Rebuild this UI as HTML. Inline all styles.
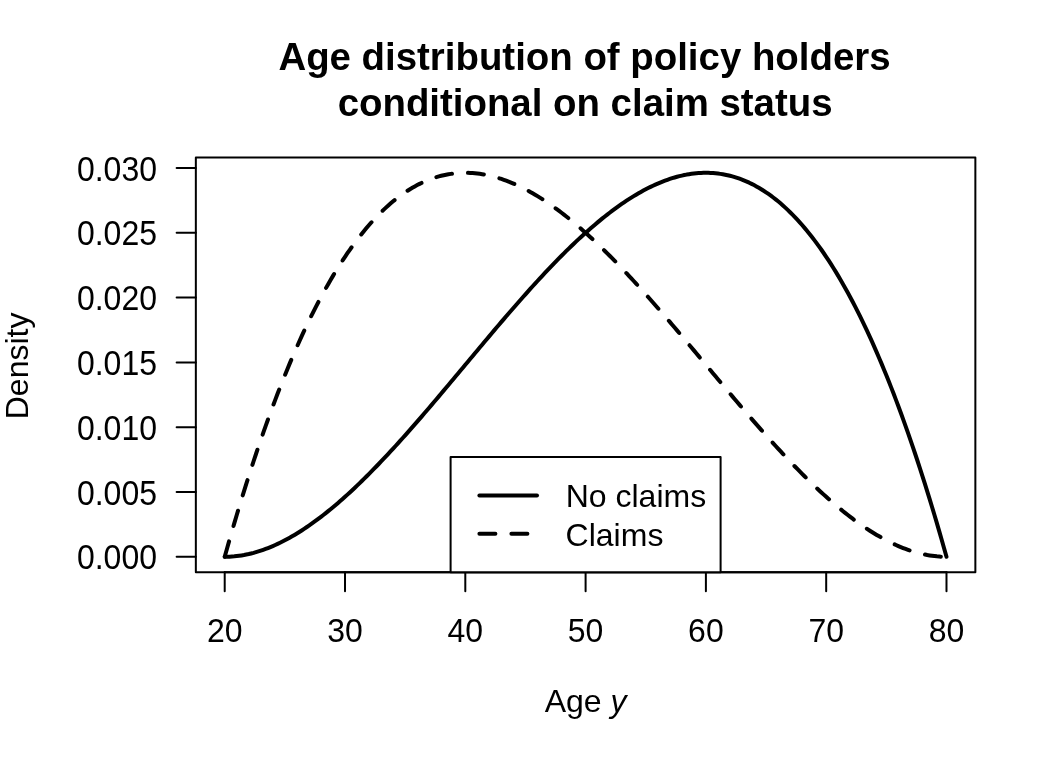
<!DOCTYPE html>
<html><head><meta charset="utf-8"><title>Age distribution of policy holders</title>
<style>
html,body{margin:0;padding:0;background:#fff;}
svg{display:block}
.t{font-family:"Liberation Sans",sans-serif;font-size:32px;fill:#000}
.m{font-family:"Liberation Sans",sans-serif;font-size:38.4px;font-weight:bold;fill:#000}
.ax{stroke:#000;stroke-width:2;stroke-linecap:round;fill:none}
.cv{stroke:#000;stroke-width:4;stroke-linecap:round;stroke-linejoin:round;fill:none}
</style></head><body>
<svg width="1056" height="768" viewBox="0 0 1056 768">
<rect width="1056" height="768" fill="#fff"/>
<rect x="195.84" y="157.44" width="779.52" height="414.71999999999997" fill="none" stroke="#000" stroke-width="2" stroke-linejoin="round"/>
<line x1="224.71" y1="572.16" x2="224.71" y2="591.36" class="ax"/>
<text transform="translate(224.71,642.1) scale(1,1.05)" text-anchor="middle" class="t">20</text>
<line x1="345.01" y1="572.16" x2="345.01" y2="591.36" class="ax"/>
<text transform="translate(345.01,642.1) scale(1,1.05)" text-anchor="middle" class="t">30</text>
<line x1="465.30" y1="572.16" x2="465.30" y2="591.36" class="ax"/>
<text transform="translate(465.30,642.1) scale(1,1.05)" text-anchor="middle" class="t">40</text>
<line x1="585.60" y1="572.16" x2="585.60" y2="591.36" class="ax"/>
<text transform="translate(585.60,642.1) scale(1,1.05)" text-anchor="middle" class="t">50</text>
<line x1="705.90" y1="572.16" x2="705.90" y2="591.36" class="ax"/>
<text transform="translate(705.90,642.1) scale(1,1.05)" text-anchor="middle" class="t">60</text>
<line x1="826.19" y1="572.16" x2="826.19" y2="591.36" class="ax"/>
<text transform="translate(826.19,642.1) scale(1,1.05)" text-anchor="middle" class="t">70</text>
<line x1="946.49" y1="572.16" x2="946.49" y2="591.36" class="ax"/>
<text transform="translate(946.49,642.1) scale(1,1.05)" text-anchor="middle" class="t">80</text>
<line x1="224.71" y1="572.16" x2="946.49" y2="572.16" class="ax"/>
<line x1="195.84" y1="556.80" x2="176.64000000000001" y2="556.80" class="ax"/>
<text transform="translate(157,569.35) scale(1,1.08)" text-anchor="end" class="t">0.000</text>
<line x1="195.84" y1="492.00" x2="176.64000000000001" y2="492.00" class="ax"/>
<text transform="translate(157,504.55) scale(1,1.08)" text-anchor="end" class="t">0.005</text>
<line x1="195.84" y1="427.20" x2="176.64000000000001" y2="427.20" class="ax"/>
<text transform="translate(157,439.75) scale(1,1.08)" text-anchor="end" class="t">0.010</text>
<line x1="195.84" y1="362.40" x2="176.64000000000001" y2="362.40" class="ax"/>
<text transform="translate(157,374.95) scale(1,1.08)" text-anchor="end" class="t">0.015</text>
<line x1="195.84" y1="297.60" x2="176.64000000000001" y2="297.60" class="ax"/>
<text transform="translate(157,310.15) scale(1,1.08)" text-anchor="end" class="t">0.020</text>
<line x1="195.84" y1="232.80" x2="176.64000000000001" y2="232.80" class="ax"/>
<text transform="translate(157,245.35) scale(1,1.08)" text-anchor="end" class="t">0.025</text>
<line x1="195.84" y1="168.00" x2="176.64000000000001" y2="168.00" class="ax"/>
<text transform="translate(157,180.55) scale(1,1.08)" text-anchor="end" class="t">0.030</text>
<path d="M224.71,556.80 L227.12,556.77 L229.52,556.69 L231.93,556.54 L234.33,556.35 L236.74,556.09 L239.15,555.78 L241.55,555.42 L243.96,555.01 L246.36,554.54 L248.77,554.02 L251.18,553.44 L253.58,552.82 L255.99,552.14 L258.39,551.42 L260.80,550.64 L263.21,549.82 L265.61,548.95 L268.02,548.03 L270.42,547.06 L272.83,546.05 L275.24,544.99 L277.64,543.88 L280.05,542.73 L282.45,541.54 L284.86,540.30 L287.27,539.02 L289.67,537.69 L292.08,536.33 L294.48,534.92 L296.89,533.47 L299.29,531.98 L301.70,530.45 L304.11,528.89 L306.51,527.28 L308.92,525.64 L311.32,523.95 L313.73,522.24 L316.14,520.48 L318.54,518.69 L320.95,516.86 L323.35,515.00 L325.76,513.11 L328.17,511.18 L330.57,509.22 L332.98,507.23 L335.38,505.20 L337.79,503.15 L340.20,501.06 L342.60,498.95 L345.01,496.80 L347.41,494.63 L349.82,492.42 L352.23,490.19 L354.63,487.94 L357.04,485.65 L359.44,483.34 L361.85,481.01 L364.25,478.65 L366.66,476.26 L369.07,473.86 L371.47,471.43 L373.88,468.97 L376.28,466.50 L378.69,464.00 L381.10,461.48 L383.50,458.95 L385.91,456.39 L388.31,453.81 L390.72,451.22 L393.13,448.61 L395.53,445.98 L397.94,443.33 L400.34,440.67 L402.75,437.99 L405.16,435.30 L407.56,432.59 L409.97,429.87 L412.37,427.14 L414.78,424.39 L417.19,421.63 L419.59,418.86 L422.00,416.08 L424.40,413.29 L426.81,410.49 L429.21,407.68 L431.62,404.86 L434.03,402.03 L436.43,399.19 L438.84,396.35 L441.24,393.50 L443.65,390.65 L446.06,387.79 L448.46,384.93 L450.87,382.06 L453.27,379.19 L455.68,376.31 L458.09,373.44 L460.49,370.56 L462.90,367.68 L465.30,364.80 L467.71,361.92 L470.12,359.04 L472.52,356.16 L474.93,353.29 L477.33,350.41 L479.74,347.54 L482.15,344.67 L484.55,341.81 L486.96,338.95 L489.36,336.10 L491.77,333.25 L494.17,330.41 L496.58,327.57 L498.99,324.74 L501.39,321.92 L503.80,319.11 L506.20,316.31 L508.61,313.52 L511.02,310.74 L513.42,307.97 L515.83,305.21 L518.23,302.46 L520.64,299.73 L523.05,297.01 L525.45,294.30 L527.86,291.61 L530.26,288.93 L532.67,286.27 L535.08,283.62 L537.48,280.99 L539.89,278.38 L542.29,275.79 L544.70,273.21 L547.11,270.65 L549.51,268.12 L551.92,265.60 L554.32,263.10 L556.73,260.63 L559.13,258.17 L561.54,255.74 L563.95,253.34 L566.35,250.95 L568.76,248.59 L571.16,246.26 L573.57,243.95 L575.98,241.66 L578.38,239.41 L580.79,237.18 L583.19,234.97 L585.60,232.80 L588.01,230.65 L590.41,228.54 L592.82,226.45 L595.22,224.40 L597.63,222.37 L600.04,220.38 L602.44,218.42 L604.85,216.49 L607.25,214.60 L609.66,212.74 L612.07,210.91 L614.47,209.12 L616.88,207.36 L619.28,205.65 L621.69,203.96 L624.09,202.32 L626.50,200.71 L628.91,199.15 L631.31,197.62 L633.72,196.13 L636.12,194.68 L638.53,193.27 L640.94,191.91 L643.34,190.58 L645.75,189.30 L648.15,188.06 L650.56,186.87 L652.97,185.72 L655.37,184.61 L657.78,183.55 L660.18,182.54 L662.59,181.57 L665.00,180.65 L667.40,179.78 L669.81,178.96 L672.21,178.18 L674.62,177.46 L677.03,176.78 L679.43,176.16 L681.84,175.58 L684.24,175.06 L686.65,174.59 L689.05,174.18 L691.46,173.82 L693.87,173.51 L696.27,173.25 L698.68,173.06 L701.08,172.91 L703.49,172.83 L705.90,172.80 L708.30,172.83 L710.71,172.92 L713.11,173.06 L715.52,173.27 L717.93,173.53 L720.33,173.86 L722.74,174.24 L725.14,174.69 L727.55,175.20 L729.96,175.78 L732.36,176.41 L734.77,177.11 L737.17,177.88 L739.58,178.71 L741.99,179.60 L744.39,180.57 L746.80,181.59 L749.20,182.69 L751.61,183.86 L754.01,185.09 L756.42,186.39 L758.83,187.76 L761.23,189.20 L763.64,190.72 L766.04,192.30 L768.45,193.96 L770.86,195.68 L773.26,197.49 L775.67,199.36 L778.07,201.31 L780.48,203.34 L782.89,205.44 L785.29,207.61 L787.70,209.87 L790.10,212.20 L792.51,214.60 L794.92,217.09 L797.32,219.65 L799.73,222.30 L802.13,225.02 L804.54,227.83 L806.95,230.72 L809.35,233.68 L811.76,236.73 L814.16,239.87 L816.57,243.09 L818.97,246.39 L821.38,249.77 L823.79,253.24 L826.19,256.80 L828.60,260.44 L831.00,264.17 L833.41,267.99 L835.82,271.90 L838.22,275.89 L840.63,279.98 L843.03,284.15 L845.44,288.41 L847.85,292.77 L850.25,297.22 L852.66,301.75 L855.06,306.39 L857.47,311.11 L859.88,315.93 L862.28,320.84 L864.69,325.85 L867.09,330.96 L869.50,336.16 L871.91,341.45 L874.31,346.85 L876.72,352.34 L879.12,357.93 L881.53,363.62 L883.93,369.41 L886.34,375.30 L888.75,381.29 L891.15,387.38 L893.56,393.58 L895.96,399.87 L898.37,406.27 L900.78,412.78 L903.18,419.38 L905.59,426.09 L907.99,432.91 L910.40,439.84 L912.81,446.87 L915.21,454.00 L917.62,461.25 L920.02,468.60 L922.43,476.06 L924.84,483.64 L927.24,491.32 L929.65,499.11 L932.05,507.01 L934.46,515.03 L936.87,523.16 L939.27,531.40 L941.68,539.75 L944.08,548.22 L946.49,556.80" class="cv"/>
<path d="M224.71,556.80 L227.12,548.22 L229.52,539.75 L231.93,531.40 L234.33,523.16 L236.74,515.03 L239.15,507.01 L241.55,499.11 L243.96,491.32 L246.36,483.64 L248.77,476.06 L251.18,468.60 L253.58,461.25 L255.99,454.00 L258.39,446.87 L260.80,439.84 L263.21,432.91 L265.61,426.09 L268.02,419.38 L270.42,412.78 L272.83,406.27 L275.24,399.87 L277.64,393.58 L280.05,387.38 L282.45,381.29 L284.86,375.30 L287.27,369.41 L289.67,363.62 L292.08,357.93 L294.48,352.34 L296.89,346.85 L299.29,341.45 L301.70,336.16 L304.11,330.96 L306.51,325.85 L308.92,320.84 L311.32,315.93 L313.73,311.11 L316.14,306.39 L318.54,301.75 L320.95,297.22 L323.35,292.77 L325.76,288.41 L328.17,284.15 L330.57,279.98 L332.98,275.89 L335.38,271.90 L337.79,267.99 L340.20,264.17 L342.60,260.44 L345.01,256.80 L347.41,253.24 L349.82,249.77 L352.23,246.39 L354.63,243.09 L357.04,239.87 L359.44,236.73 L361.85,233.68 L364.25,230.72 L366.66,227.83 L369.07,225.02 L371.47,222.30 L373.88,219.65 L376.28,217.09 L378.69,214.60 L381.10,212.20 L383.50,209.87 L385.91,207.61 L388.31,205.44 L390.72,203.34 L393.13,201.31 L395.53,199.36 L397.94,197.49 L400.34,195.68 L402.75,193.96 L405.16,192.30 L407.56,190.72 L409.97,189.20 L412.37,187.76 L414.78,186.39 L417.19,185.09 L419.59,183.86 L422.00,182.69 L424.40,181.59 L426.81,180.57 L429.21,179.60 L431.62,178.71 L434.03,177.88 L436.43,177.11 L438.84,176.41 L441.24,175.78 L443.65,175.20 L446.06,174.69 L448.46,174.24 L450.87,173.86 L453.27,173.53 L455.68,173.27 L458.09,173.06 L460.49,172.92 L462.90,172.83 L465.30,172.80 L467.71,172.83 L470.12,172.91 L472.52,173.06 L474.93,173.25 L477.33,173.51 L479.74,173.82 L482.15,174.18 L484.55,174.59 L486.96,175.06 L489.36,175.58 L491.77,176.16 L494.17,176.78 L496.58,177.46 L498.99,178.18 L501.39,178.96 L503.80,179.78 L506.20,180.65 L508.61,181.57 L511.02,182.54 L513.42,183.55 L515.83,184.61 L518.23,185.72 L520.64,186.87 L523.05,188.06 L525.45,189.30 L527.86,190.58 L530.26,191.91 L532.67,193.27 L535.08,194.68 L537.48,196.13 L539.89,197.62 L542.29,199.15 L544.70,200.71 L547.11,202.32 L549.51,203.96 L551.92,205.65 L554.32,207.36 L556.73,209.12 L559.13,210.91 L561.54,212.74 L563.95,214.60 L566.35,216.49 L568.76,218.42 L571.16,220.38 L573.57,222.37 L575.98,224.40 L578.38,226.45 L580.79,228.54 L583.19,230.65 L585.60,232.80 L588.01,234.97 L590.41,237.18 L592.82,239.41 L595.22,241.66 L597.63,243.95 L600.04,246.26 L602.44,248.59 L604.85,250.95 L607.25,253.34 L609.66,255.74 L612.07,258.17 L614.47,260.63 L616.88,263.10 L619.28,265.60 L621.69,268.12 L624.09,270.65 L626.50,273.21 L628.91,275.79 L631.31,278.38 L633.72,280.99 L636.12,283.62 L638.53,286.27 L640.94,288.93 L643.34,291.61 L645.75,294.30 L648.15,297.01 L650.56,299.73 L652.97,302.46 L655.37,305.21 L657.78,307.97 L660.18,310.74 L662.59,313.52 L665.00,316.31 L667.40,319.11 L669.81,321.92 L672.21,324.74 L674.62,327.57 L677.03,330.41 L679.43,333.25 L681.84,336.10 L684.24,338.95 L686.65,341.81 L689.05,344.67 L691.46,347.54 L693.87,350.41 L696.27,353.29 L698.68,356.16 L701.08,359.04 L703.49,361.92 L705.90,364.80 L708.30,367.68 L710.71,370.56 L713.11,373.44 L715.52,376.31 L717.93,379.19 L720.33,382.06 L722.74,384.93 L725.14,387.79 L727.55,390.65 L729.96,393.50 L732.36,396.35 L734.77,399.19 L737.17,402.03 L739.58,404.86 L741.99,407.68 L744.39,410.49 L746.80,413.29 L749.20,416.08 L751.61,418.86 L754.01,421.63 L756.42,424.39 L758.83,427.14 L761.23,429.87 L763.64,432.59 L766.04,435.30 L768.45,437.99 L770.86,440.67 L773.26,443.33 L775.67,445.98 L778.07,448.61 L780.48,451.22 L782.89,453.81 L785.29,456.39 L787.70,458.95 L790.10,461.48 L792.51,464.00 L794.92,466.50 L797.32,468.97 L799.73,471.43 L802.13,473.86 L804.54,476.26 L806.95,478.65 L809.35,481.01 L811.76,483.34 L814.16,485.65 L816.57,487.94 L818.97,490.19 L821.38,492.42 L823.79,494.63 L826.19,496.80 L828.60,498.95 L831.00,501.06 L833.41,503.15 L835.82,505.20 L838.22,507.23 L840.63,509.22 L843.03,511.18 L845.44,513.11 L847.85,515.00 L850.25,516.86 L852.66,518.69 L855.06,520.48 L857.47,522.24 L859.88,523.95 L862.28,525.64 L864.69,527.28 L867.09,528.89 L869.50,530.45 L871.91,531.98 L874.31,533.47 L876.72,534.92 L879.12,536.33 L881.53,537.69 L883.93,539.02 L886.34,540.30 L888.75,541.54 L891.15,542.73 L893.56,543.88 L895.96,544.99 L898.37,546.05 L900.78,547.06 L903.18,548.03 L905.59,548.95 L907.99,549.82 L910.40,550.64 L912.81,551.42 L915.21,552.14 L917.62,552.82 L920.02,553.44 L922.43,554.02 L924.84,554.54 L927.24,555.01 L929.65,555.42 L932.05,555.78 L934.46,556.09 L936.87,556.35 L939.27,556.54 L941.68,556.69 L944.08,556.77 L946.49,556.80" class="cv" stroke-dasharray="16 16"/>
<rect x="450.6" y="457.0" width="270.0" height="115.15999999999997" fill="#fff" stroke="#000" stroke-width="2" stroke-linejoin="round"/>
<line x1="479.4" y1="495.4" x2="537" y2="495.4" class="cv"/>
<line x1="479.4" y1="533.8" x2="537" y2="533.8" class="cv" stroke-dasharray="16 16"/>
<text x="565.7" y="506.9" class="t">No claims</text>
<text x="565.6" y="545.6" class="t">Claims</text>
<text x="584.5" y="70" text-anchor="middle" class="m">Age distribution of policy holders</text>
<text x="585.1" y="116" text-anchor="middle" class="m">conditional on claim status</text>
<text x="585.6" y="712" text-anchor="middle" class="t">Age <tspan font-style="italic">y</tspan></text>
<text transform="translate(27.6,365.9) rotate(-90)" text-anchor="middle" class="t">Density</text>
</svg>
</body></html>
